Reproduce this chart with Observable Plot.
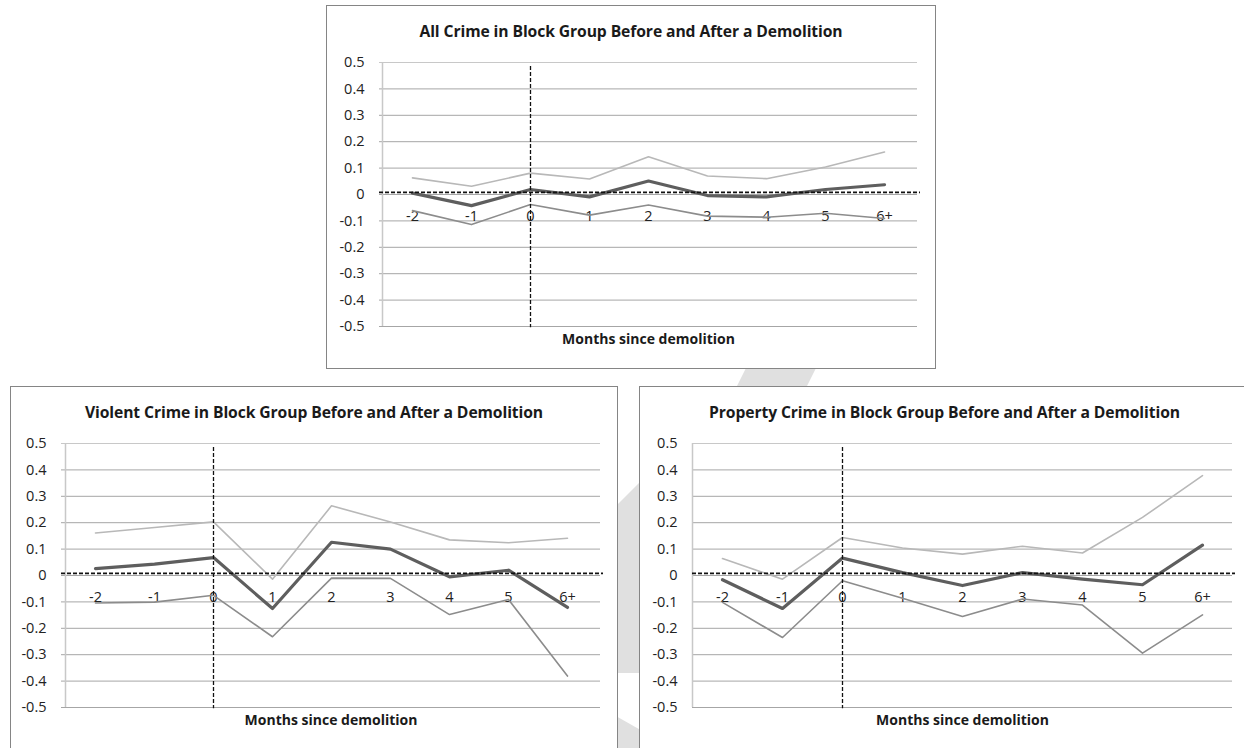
<!DOCTYPE html>
<html>
<head>
<meta charset="utf-8">
<script src="https://cdn.jsdelivr.net/npm/d3@7"></script>
<script src="https://cdn.jsdelivr.net/npm/@observablehq/plot@0.6"></script>
<style>
  html, body { margin: 0; padding: 0; background: #fff; }
  body { position: relative; width: 1244px; height: 748px; overflow: hidden; font-family: "Open Sans", Lato, sans-serif; }
  .wash { position: absolute; left: 0; top: 0; }
  .panel { position: absolute; background: #fff; border: 1px solid #858585; box-sizing: border-box; }
  .panel .title { position: absolute; left: 0; right: 0; top: 14px; line-height: 22px; text-align: center;
                  font-size: 15.7px; font-weight: 700; color: #1a1a1a; white-space: nowrap; letter-spacing: -0.1px; }
  .panel svg { position: absolute; left: 0; top: 0; }
</style>
</head>
<body>
<svg class="wash" width="1244" height="748">
  <!-- faint diagonal strokes in the page background -->
  <polygon points="760,340 830,340 790,420 720,420" fill="#e0e0e0"/>
  <polygon points="660,462 600,522 600,673 660,673" fill="#e0e0e0"/>
  <polygon points="600,707 660,741 660,760 600,760" fill="#e0e0e0"/>
</svg>
<script>
// Month bins along the horizontal axis
const months = ["-2", "-1", "0", "1", "2", "3", "4", "5", "6+"];
const yTickValues = [-0.5, -0.4, -0.3, -0.2, -0.1, 0, 0.1, 0.2, 0.3, 0.4, 0.5];
const axisTitle = "Months since demolition";
const demolitionMonth = "0";
const baselineValue = 0.008;

// All crime: upper bound, estimate, lower bound
const allUpper    = [0.063, 0.031, 0.081, 0.059, 0.143, 0.070, 0.060, 0.104, 0.161];
const allEstimate = [0.005, -0.042, 0.019, -0.009, 0.051, -0.004, -0.009, 0.019, 0.037];
const allLower    = [-0.061, -0.114, -0.038, -0.078, -0.040, -0.082, -0.086, -0.071, -0.091];

// Violent crime
const violentUpper    = [0.161, 0.182, 0.203, -0.014, 0.264, 0.203, 0.135, 0.124, 0.141];
const violentEstimate = [0.026, 0.043, 0.068, -0.125, 0.126, 0.100, -0.005, 0.020, -0.121];
const violentLower    = [-0.104, -0.101, -0.075, -0.232, -0.010, -0.011, -0.148, -0.091, -0.381];

// Property crime
const propertyUpper    = [0.064, -0.014, 0.144, 0.104, 0.081, 0.111, 0.085, 0.220, 0.378];
const propertyEstimate = [-0.016, -0.125, 0.066, 0.011, -0.038, 0.011, -0.014, -0.035, 0.115];
const propertyLower    = [-0.102, -0.235, -0.020, -0.086, -0.155, -0.089, -0.112, -0.294, -0.149];

const zip = (values) => months.map((m, i) => ({month: m, value: values[i]}));

function crimeChart({title, left, top, width, marginLeft, marginRight, upper, estimate, lower}) {
  const height = 362;
  const div = document.createElement("div");
  div.className = "panel";
  Object.assign(div.style, {left: left + "px", top: top + "px", width: width + "px", height: "364px"});

  const svg = Plot.plot({
    width: width - 2,
    height,
    marginLeft,
    marginRight,
    marginTop: 56,
    marginBottom: height - 56 - 264,
    style: {fontFamily: "'Open Sans', Lato, sans-serif", fontSize: "14.5px", color: "#222", background: "transparent"},
    x: {type: "point", domain: months, padding: 0.5, axis: null},
    y: {domain: [-0.5, 0.5]},
    marks: [
      // horizontal gridlines
      Plot.ruleY(yTickValues.filter(v => v !== 0.5), {stroke: "#a6a6a6", strokeWidth: 1}),
      Plot.ruleY([0.5], {stroke: "#c8c8c8", strokeWidth: 1}),
      // left edge of the plot area
      Plot.ruleX([months[0]], {y1: -0.5, y2: 0.5, dx: -30, stroke: "#c8c8c8", strokeWidth: 1.5}),
      Plot.axisY(yTickValues, {tickSize: 0, tickPadding: 15, label: null, fontSize: 14.5,
        tickFormat: d => String(+d.toFixed(1))}),
      // month labels sit just under the zero line
      Plot.text(months, {x: d => d, y: () => 0, dy: 22, fontSize: 14.5, fill: "#222"}),
      Plot.text([axisTitle], {frameAnchor: "bottom", dy: 17, fontWeight: 700, fontSize: 14, fill: "#1a1a1a"}),
      // confidence bounds and point estimate
      Plot.line(zip(upper), {x: "month", y: "value", stroke: "#b8b8b8", strokeWidth: 1.6}),
      Plot.line(zip(lower), {x: "month", y: "value", stroke: "#8c8c8c", strokeWidth: 1.6}),
      Plot.line(zip(estimate), {x: "month", y: "value", stroke: "#5e5e5e", strokeWidth: 3.2}),
      // reference lines: demolition month and baseline
      Plot.ruleX([demolitionMonth], {y1: 0.485, y2: -0.505, stroke: "#111", strokeWidth: 1.3, strokeDasharray: "4,2"}),
      Plot.ruleY([baselineValue], {insetRight: -3, stroke: "#111", strokeWidth: 1.6, strokeDasharray: "4,2"})
    ]
  });

  const t = document.createElement("div");
  t.className = "title";
  t.textContent = title;
  div.appendChild(svg);
  div.appendChild(t);
  document.body.appendChild(div);
}

crimeChart({title: "All Crime in Block Group Before and After a Demolition",
  left: 326, top: 5, width: 610, marginLeft: 52, marginRight: 18,
  upper: allUpper, estimate: allEstimate, lower: allLower});

crimeChart({title: "Violent Crime in Block Group Before and After a Demolition",
  left: 10, top: 386, width: 608, marginLeft: 50, marginRight: 17,
  upper: violentUpper, estimate: violentEstimate, lower: violentLower});

crimeChart({title: "Property Crime in Block Group Before and After a Demolition",
  left: 639, top: 386, width: 611, marginLeft: 52, marginRight: 17,
  upper: propertyUpper, estimate: propertyEstimate, lower: propertyLower});
</script>
</body>
</html>
